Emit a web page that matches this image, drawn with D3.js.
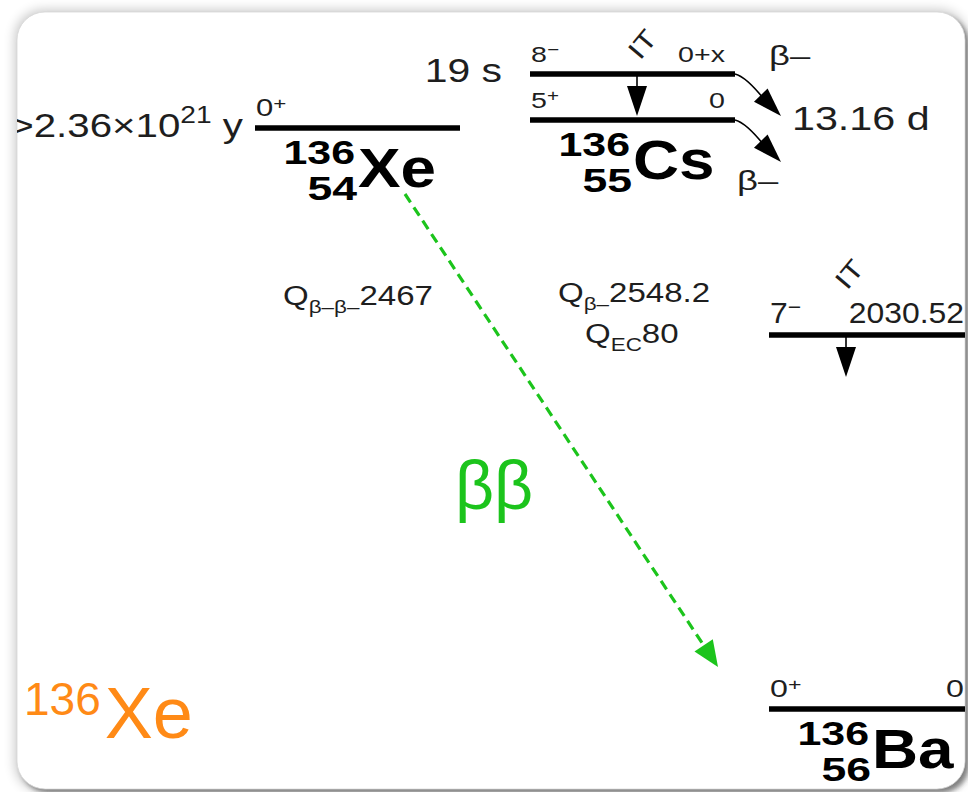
<!DOCTYPE html>
<html><head><meta charset="utf-8">
<script src="https://cdn.jsdelivr.net/npm/d3@7"></script>
<style>
html,body{margin:0;padding:0;background:#fff;}
svg{display:block;}
text{font-family:"Liberation Sans", Arial, Helvetica, sans-serif;}
</style></head><body>
<svg id="chart" width="968" height="792"></svg>
<script>
// A = 136 isobars: double-beta decay of 136Xe to 136Ba
const nuclideSymbol = ["Xe", "Cs", "Ba"];
const nuclideZ = [54, 55, 56];
const nuclideA = [136, 136, 136];

// levels, energies in keV above the 136Ba ground state
const levelZ = [54, 55, 55, 56, 56];
const levelEnergy = [2467, 2548.2, 2548.2, 2030.52, 0];
const levelIsomer = [0, 1, 0, 0, 0];
const levelSpin = ["0+", "8−", "5+", "7−", "0+"];
const levelEnergyLabel = ["", "0+x", "0", "2030.52", "0"];
const levelHalfLife = [">2.36×10^21 y", "19 s", "13.16 d", "", ""];

// decay Q-values (keV) by parent
const qParentZ = [54, 55, 55];
const qMode = ["β−β−", "β−", "EC"];
const qValue = [2467, 2548.2, 80];

const ISOTOPE_A = 136, ISOTOPE_SYMBOL = "Xe";

const svg = d3.select("#chart");
const defs = svg.append("defs");

// card with soft shadow
const card = {x: 17, y: 12, w: 948, h: 777, r: 28};
defs.append("filter").attr("id", "soft").attr("x", -0.1).attr("y", -0.1).attr("width", 1.2).attr("height", 1.2)
  .append("feGaussianBlur").attr("stdDeviation", 6);
defs.append("filter").attr("id", "hard").attr("x", -0.1).attr("y", -0.1).attr("width", 1.2).attr("height", 1.2)
  .append("feGaussianBlur").attr("stdDeviation", 2.5);
defs.append("clipPath").attr("id", "cardClip").append("rect")
  .attr("x", card.x).attr("y", card.y).attr("width", card.w).attr("height", card.h).attr("rx", card.r);

svg.append("rect").attr("x", card.x - 2).attr("y", card.y - 2).attr("width", card.w + 4).attr("height", card.h + 4)
  .attr("rx", card.r).attr("fill", "#000").attr("opacity", 0.22).attr("filter", "url(#soft)");
svg.append("rect").attr("x", card.x + 4).attr("y", card.y + 4).attr("width", card.w).attr("height", card.h)
  .attr("rx", card.r).attr("fill", "#333").attr("opacity", 0.55).attr("filter", "url(#hard)");
svg.append("rect").attr("x", card.x).attr("y", card.y).attr("width", card.w).attr("height", card.h)
  .attr("rx", card.r).attr("fill", "#fff").attr("stroke", "#d8d8d8").attr("stroke-width", 0.8);

const g = svg.append("g").attr("clip-path", "url(#cardClip)");

// schematic scales: column by proton number, broken energy axis
const x = d3.scaleLinear().domain(nuclideZ).range([255, 530, 769]);
const y = d3.scaleLinear().domain([0, 2030.52, 2467, 2548.2]).range([709, 335, 128, 120]);
const levelW = 205, isomerGap = 46;
const levels = levelZ.map((z, i) => ({
  i, z, e: levelEnergy[i], isomer: levelIsomer[i], spin: levelSpin[i],
  eLabel: levelEnergyLabel[i], half: levelHalfLife[i],
  x0: x(z), x1: x(z) + levelW, y: y(levelEnergy[i]) - levelIsomer[i] * isomerGap
}));

const ink = "#000", grey = "#1e1e1e", green = "#1cc41c", orange = "#ff8a16";

// text drawn with a horizontal stretch about its anchor point
function label(px, py, sx, fs, anchor) {
  return g.append("text").attr("transform", `translate(${px},${py}) scale(${sx},1)`)
    .attr("font-size", fs).attr("text-anchor", anchor || "start").attr("fill", grey);
}

function arrowHead(sel, x1, y1, x2, y2, len, half, color) {
  const a = Math.atan2(y2 - y1, x2 - x1);
  const bx = x2 - len * Math.cos(a), by = y2 - len * Math.sin(a);
  const nx = -Math.sin(a) * half, ny = Math.cos(a) * half;
  sel.append("path").attr("d", `M${x2},${y2}L${bx + nx},${by + ny}L${bx - nx},${by - ny}Z`).attr("fill", color);
}

// level lines
g.selectAll("line.level").data(levels).join("line").attr("class", "level")
  .attr("x1", d => d.x0).attr("x2", d => d.x1).attr("y1", d => d.y).attr("y2", d => d.y)
  .attr("stroke", ink).attr("stroke-width", 5.5);

// spin-parity and level-energy labels
const spinSize = [23, 22, 22, 29, 23];
const spinStretch = [1.35, 1.3, 1.3, 1.1, 1.4];
levels.forEach(d => {
  const fs = spinSize[d.i], sx = spinStretch[d.i];
  const t = label(d.x0 + 1, d.y - 12, sx, fs);
  t.append("tspan").text(d.spin.slice(0, -1));
  t.append("tspan").attr("font-size", fs * 0.72).attr("dy", -fs * 0.3).text(d.spin.slice(-1));
  if (d.eLabel) label(d.x1 - 10, d.y - 12, sx, fs, "end").text(d.eLabel);
});

// nuclide labels under each ground level
nuclideZ.forEach((z, k) => {
  const ground = levels.filter(d => d.z === z && !d.isomer).sort((a, b) => a.e - b.e)[0];
  const gx = ground.x0 + 102, gy = ground.y;
  label(gx - 2, gy + 36, 1.3, 33, "end").attr("font-weight", "bold").attr("fill", ink).text(nuclideA[k]);
  label(gx, gy + 72, 1.35, 33, "end").attr("font-weight", "bold").attr("fill", ink).text(z);
  label(gx + 1, gy + 59, 1.16, 55).attr("font-weight", "bold").attr("fill", ink).text(nuclideSymbol[k]);
});

// half-lives
function halfLifeText(sel, s, fs) {
  const [base, exp] = s.split("^");
  if (!exp) { sel.text(s); return; }
  const m = exp.match(/^(\d+)(.*)$/);
  sel.append("tspan").text(base);
  sel.append("tspan").attr("font-size", fs * 0.7).attr("dy", -fs * 0.42).text(m[1]);
  sel.append("tspan").attr("dy", fs * 0.42).text("\u00a0" + m[2].trim());
}
const xeLev = levels[0], csIso = levels[1], csGs = levels[2], baIso = levels[3], baGs = levels[4];
halfLifeText(label(xeLev.x0 - 12, xeLev.y + 9, 1.22, 33, "end"), xeLev.half, 33);
label(csIso.x0 - 28, csIso.y + 8, 1.24, 33, "end").text(csIso.half);
label(csGs.x1 + 57, csGs.y + 10, 1.25, 33).text(csGs.half);

// beta-minus branches out of the Cs levels
[csIso, csGs].forEach(d => {
  const sx = d.x1, sy = d.y, ex = d.x1 + 46, ey = d.y + 42;
  g.append("path").attr("d", `M${sx},${sy}Q${sx + 12},${sy + 3} ${ex - 14},${ey - 13}`)
    .attr("fill", "none").attr("stroke", ink).attr("stroke-width", 1.6);
  arrowHead(g, sx + 10, sy + 5, ex, ey, 29, 9.5, ink);
});
label(csIso.x1 + 34, csIso.y - 9, 1.35, 27).text("β–");
label(csGs.x1 + 2, csGs.y + 70, 1.35, 27).text("β–");

// isomeric transitions
function itArrow(xp, yTop, yTip) {
  g.append("line").attr("x1", xp).attr("x2", xp).attr("y1", yTop).attr("y2", yTip - 20)
    .attr("stroke", ink).attr("stroke-width", 1.6);
  arrowHead(g, xp, yTop, xp, yTip, 30, 10, ink);
}
itArrow(csIso.x0 + 107, csIso.y, csGs.y - 4);
itArrow(baIso.x0 + 77, baIso.y, baIso.y + 42);
[[csIso.x0 + 112, csIso.y - 30], [baIso.x0 + 80, baIso.y - 61]].forEach(([cx, cy]) => {
  g.append("text").attr("transform", `translate(${cx},${cy}) rotate(-50) scale(1.25,1)`).attr("text-anchor", "middle")
    .attr("dy", "0.36em").attr("font-size", 26).attr("fill", grey).text("IT");
});

// Q-values
const qPos = [[28, 177], [28, 182], [55, 223]];
qMode.forEach((m, k) => {
  const lv = levels.find(d => d.z === qParentZ[k] && !d.isomer);
  const [dx, yy] = qPos[k];
  const t = label(lv.x0 + dx, lv.y + yy, 1.18, 28);
  t.append("tspan").text("Q");
  const sub = m === "EC" ? "EC" : m.replace(/−/g, "–");
  t.append("tspan").attr("font-size", 19).attr("dy", 8).text(sub);
  t.append("tspan").attr("dy", -8).text(qValue[k]);
});

// double-beta decay arrow 136Xe -> 136Ba
const sx = xeLev.x0 + 150, sy = xeLev.y + 66, ex = baGs.x0 - 51, ey = baGs.y - 42;
const ang = Math.atan2(ey - sy, ex - sx);
g.append("line").attr("x1", sx).attr("y1", sy)
  .attr("x2", ex - 22 * Math.cos(ang)).attr("y2", ey - 22 * Math.sin(ang))
  .attr("stroke", green).attr("stroke-width", 3.2).attr("stroke-dasharray", "10,6");
arrowHead(g, sx, sy, ex, ey, 26, 11, green);
g.append("text").attr("x", 455).attr("y", 509).attr("font-family", "DejaVu Sans")
  .attr("font-size", 68).attr("fill", green).text("ββ");

// isotope tag
const tag = g.append("text").attr("x", 24).attr("y", 738).attr("font-family", "Open Sans").attr("fill", orange);
tag.append("tspan").attr("font-size", 46).attr("dy", -23).text(ISOTOPE_A);
tag.append("tspan").attr("font-size", 72).attr("dx", 4).attr("dy", 23).text(ISOTOPE_SYMBOL);
</script>
</body></html>
